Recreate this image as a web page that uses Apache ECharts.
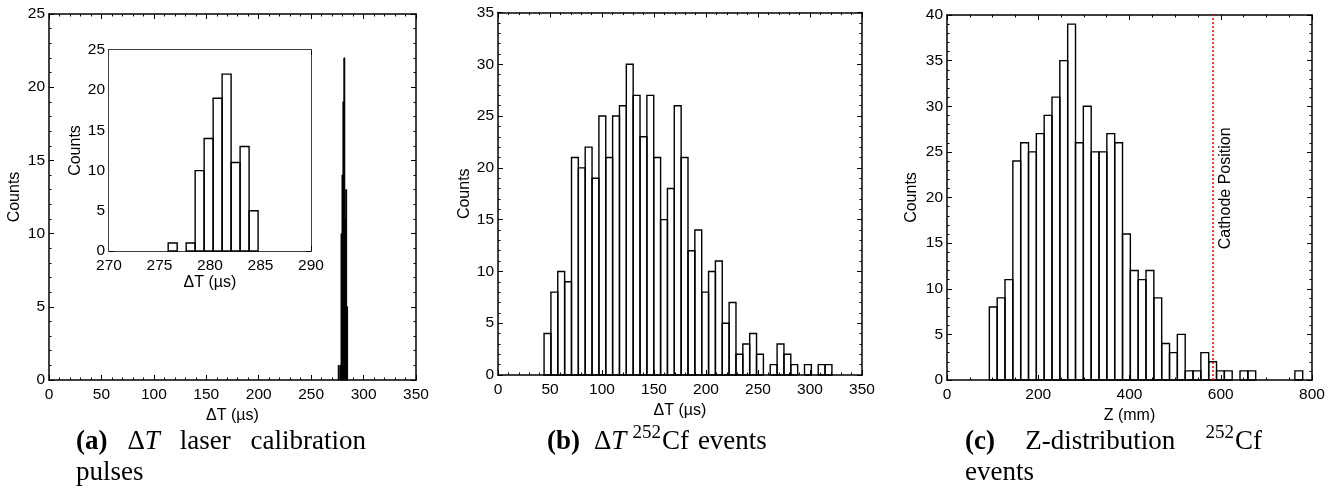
<!DOCTYPE html>
<html><head><meta charset="utf-8">
<script src="https://cdn.jsdelivr.net/npm/echarts@6/dist/echarts.min.js"></script>
<style>html,body{margin:0;padding:0;background:#fff}#c{width:1338px;height:488px}</style>
</head><body><div id="c"></div><script>
// ---------------- data ----------------
// (a) laser calibration pulses, ΔT histogram (µs)
const laserBinStart = 275.86;
const laserBinWidth = 0.89;
const laserCounts = [1, 0, 1, 10, 14, 19, 22, 11, 13, 5];
// (b) ΔT of 252Cf events (µs)
const dtBinStart = 44.3;
const dtBinWidth = 6.59;
const dtCounts = [4, 8, 10, 9, 21, 20, 22, 19, 25, 21, 25, 26, 30, 27, 23, 27, 21, 15, 18, 26,
                  21, 12, 14, 8, 10, 11, 5, 7, 2, 3, 4, 2, 0, 1, 3, 2, 1, 0, 1, 0, 1, 1];
// (c) Z distribution of 252Cf events (mm)
const zBinStart = 92.8;
const zBinWidth = 17.17;
const zCounts = [8, 9, 11, 24, 26, 25, 27, 29, 31, 35, 39, 26, 30, 25, 25, 27, 26, 16, 12, 11,
                 12, 9, 4, 3, 5, 1, 1, 3, 2, 1, 1, 0, 1, 1, 0, 0, 0, 0, 0, 1];
const cathodeZ = 582;
const cathodeLabel = 'Cathode Position';
// axis ranges [min, max, major interval, minor splits]
const aX = [0, 350, 50, 5], aY = [0, 25, 5, 5];
const insetX = [270, 290, 5, 5], insetY = [0, 25, 5, 5];
const bX = [0, 350, 50, 5], bY = [0, 35, 5, 5];
const cX = [0, 800, 200, 4], cY = [0, 40, 5, 5];
const xNameDT = 'ΔT (µs)', xNameZ = 'Z (mm)', yName = 'Counts';

// ---------------- helpers ----------------
function toBins(start, width, counts) {
  return counts.map((c, i) => [start + i * width, start + (i + 1) * width, c]);
}
const SANS = "'Liberation Sans', Arial, Helvetica, sans-serif";
const SERIF = "'Liberation Serif', 'Times New Roman', serif";
const TICKFS = 15.5, NAMEFS = 16;

function makeX(gi, r, name, nameGap, labelMargin) {
  const common = {
    gridIndex: gi, type: 'value', min: r[0], max: r[1], interval: r[2],
    axisLine: { show: true, onZero: false, lineStyle: { color: '#000', width: 1.5 } },
    axisTick: { show: true, inside: true, length: 5, lineStyle: { color: '#000', width: 1 } },
    minorTick: { show: true, splitNumber: r[3], length: 2.5, lineStyle: { color: '#000', width: 1 } },
    splitLine: { show: false }, minorSplitLine: { show: false }
  };
  return [
    Object.assign({}, common, {
      position: 'bottom', name: name, nameLocation: 'middle', nameGap: nameGap,
      nameTextStyle: { fontFamily: SANS, fontSize: NAMEFS, color: '#000', verticalAlign: 'top' },
      axisLabel: { show: true, margin: labelMargin, fontFamily: SANS, fontSize: TICKFS, color: '#000' }
    }),
    Object.assign({}, common, { position: 'top', axisLabel: { show: false } })
  ];
}
function makeY(gi, r, nameGap) {
  const common = {
    gridIndex: gi, type: 'value', min: r[0], max: r[1], interval: r[2],
    axisLine: { show: true, onZero: false, lineStyle: { color: '#000', width: 1.5 } },
    axisTick: { show: true, inside: true, length: 5, lineStyle: { color: '#000', width: 1 } },
    minorTick: { show: true, splitNumber: r[3], length: 2.5, lineStyle: { color: '#000', width: 1 } },
    splitLine: { show: false }, minorSplitLine: { show: false }
  };
  return [
    Object.assign({}, common, {
      position: 'left', name: yName, nameLocation: 'middle', nameGap: nameGap, nameRotate: 90,
      nameTextStyle: { fontFamily: SANS, fontSize: NAMEFS, color: '#000' },
      axisLabel: { show: true, margin: 4, fontFamily: SANS, fontSize: TICKFS, color: '#000' }
    }),
    Object.assign({}, common, { position: 'right', axisLabel: { show: false } })
  ];
}
function histSeries(xi, yi, bins, filled) {
  return {
    type: 'custom', xAxisIndex: xi, yAxisIndex: yi, silent: true, z: 5,
    data: bins,
    renderItem: function (params, api) {
      const c = api.value(2);
      if (!c) return null;
      const p0 = api.coord([api.value(0), c]);
      const p1 = api.coord([api.value(1), 0]);
      return {
        type: 'rect',
        shape: { x: p0[0], y: p0[1], width: p1[0] - p0[0], height: p1[1] - p0[1] },
        style: { fill: filled ? '#000' : 'none', stroke: '#000', lineWidth: filled ? 1 : 1.4 }
      };
    }
  };
}

// grids: 0 = (a) main, 1 = (a) inset, 2 = (b), 3 = (c)
const grids = [
  { left: 49, top: 14, width: 367, height: 366 },
  { left: 109, top: 50, width: 202, height: 201, backgroundColor: '#fff', show: true, borderWidth: 0, z: 3 },
  { left: 498, top: 12.5, width: 364, height: 362.5 },
  { left: 947, top: 15, width: 365, height: 365 }
].map(g => Object.assign({ outerBoundsMode: 'none', containLabel: false }, g));

const xAxes = [].concat(
  makeX(0, aX, xNameDT, 19, 7),
  makeX(1, insetX, xNameDT, 18, 7),
  makeX(2, bX, xNameDT, 25, 7),
  makeX(3, cX, xNameZ, 20, 7)
);
const yAxes = [].concat(
  makeY(0, aY, 26),
  makeY(1, insetY, 24),
  makeY(2, bY, 25),
  makeY(3, cY, 27)
);

const series = [
  histSeries(0, 0, toBins(laserBinStart, laserBinWidth, laserCounts), true),
  histSeries(2, 2, toBins(laserBinStart, laserBinWidth, laserCounts), false),
  histSeries(4, 4, toBins(dtBinStart, dtBinWidth, dtCounts), false),
  histSeries(6, 6, toBins(zBinStart, zBinWidth, zCounts), false),
  {
    type: 'custom', xAxisIndex: 6, yAxisIndex: 6, silent: true, z: 8,
    data: [[cathodeZ, 21]],
    markLine: {
      silent: true, symbol: 'none', animation: false, z: 9,
      lineStyle: { color: '#ff0000', type: [2, 2], width: 1.5 },
      label: { show: false },
      data: [{ xAxis: cathodeZ }]
    },
    renderItem: function (params, api) {
      const p = api.coord([api.value(0), api.value(1)]);
      return {
        type: 'text', x: p[0] + 13, y: p[1], rotation: Math.PI / 2,
        style: { text: cathodeLabel, fontFamily: SANS, fontSize: 16, fill: '#000',
                 align: 'center', verticalAlign: 'middle', textAlign: 'center', textVerticalAlign: 'middle' }
      };
    }
  }
];

// ---------------- captions ----------------
const measureCtx = document.createElement('canvas').getContext('2d');
function tw(text, font) { measureCtx.font = font; return measureCtx.measureText(text).width; }
const CFS = 27;
function capFont(kind) {
  if (kind === 'b') return 'bold ' + CFS + 'px ' + SERIF;
  if (kind === 'i') return 'italic ' + CFS + 'px ' + SERIF;
  if (kind === 's') return '19px ' + SERIF;
  return CFS + 'px ' + SERIF;
}
// words: array of [text, kind, gapBefore]; gaps >= 6 are stretchable when justified to endX
function captionLine(x, y, words, endX) {
  const out = [];
  const widths = words.map(w => tw(w[0], capFont(w[1])));
  const totalGap = words.reduce((s, w) => s + (w[2] || 0), 0);
  let scale = 1;
  if (endX) {
    const natural = widths.reduce((a, b) => a + b, 0);
    const extra = endX - x - natural;
    const stretchable = words.reduce((s, w) => s + (w[2] >= 6 ? w[2] : 0), 0);
    scale = stretchable > 0 ? (extra - (totalGap - stretchable)) / stretchable : 1;
  }
  let cx = x;
  words.forEach((w, i) => {
    const g = w[2] || 0;
    cx += (g >= 6 ? g * scale : g);
    out.push({
      type: 'text', x: cx, y: w[1] === 's' ? y - 9 : y, silent: true,
      style: { text: w[0], font: capFont(w[1]), fill: '#000', verticalAlign: 'middle', align: 'left' }
    });
    cx += widths[i];
  });
  return out;
}
const graphics = [].concat(
  captionLine(76, 442, [['(a)', 'b', 0], ['Δ', 'n', 10], ['T', 'i', 0], ['laser', 'n', 10], ['calibration', 'n', 10]], 366),
  captionLine(76, 473, [['pulses', 'n', 0]]),
  captionLine(547, 442, [['(b)', 'b', 0], ['Δ', 'n', 14], ['T', 'i', 0], ['252', 's', 6], ['Cf', 'n', 1], ['events', 'n', 9]]),
  captionLine(965, 442, [['(c)', 'b', 0], ['Z-distribution', 'n', 10], ['252', 's', 10], ['Cf', 'n', 1]], 1262),
  captionLine(965, 473, [['events', 'n', 0]])
);

const chart = echarts.init(document.getElementById('c'), null, { renderer: 'canvas' });
chart.setOption({
  animation: false,
  backgroundColor: '#fff',
  grid: grids,
  xAxis: xAxes,
  yAxis: yAxes,
  series: series,
  graphic: graphics
});
</script></body></html>
